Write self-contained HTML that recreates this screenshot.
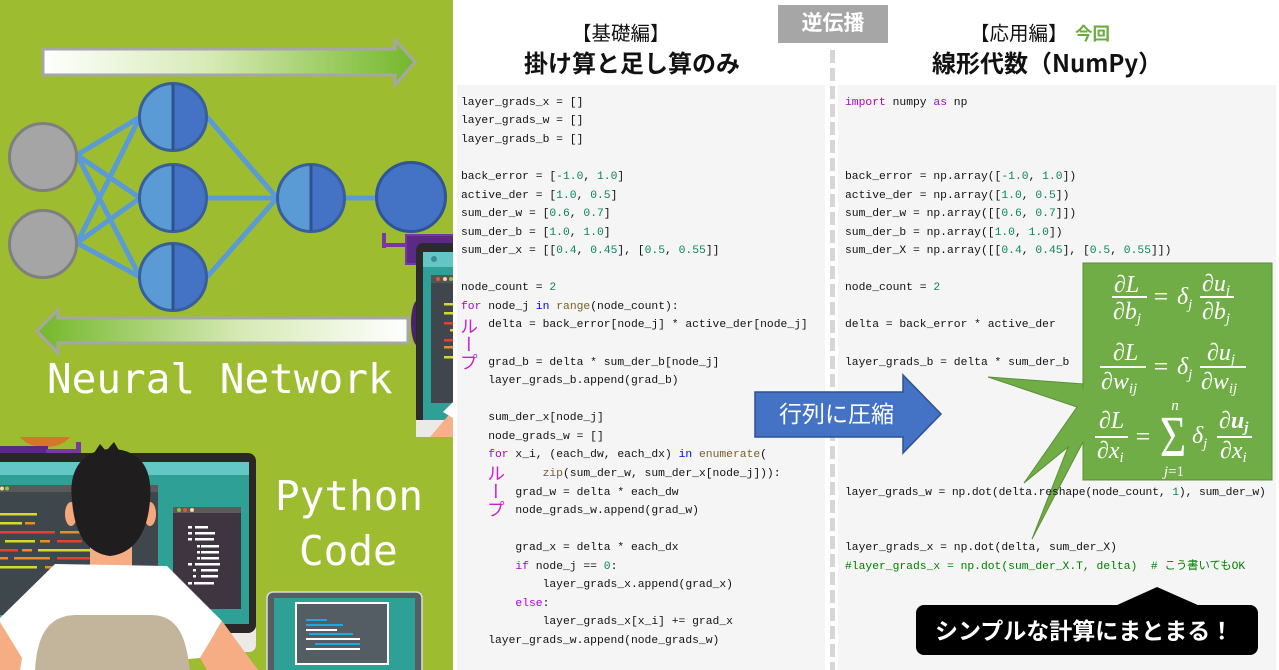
<!DOCTYPE html>
<html><head><meta charset="utf-8">
<style>
*{margin:0;padding:0;box-sizing:border-box}
body{width:1279px;height:670px;overflow:hidden;background:#fff;position:relative;font-family:"Liberation Sans","Noto Sans CJK JP",sans-serif}
.abs{position:absolute}
pre{position:absolute;font-family:"Liberation Mono","Noto Sans CJK JP",monospace;font-size:11.33px;line-height:18.57px;color:#111;white-space:pre;margin:0;z-index:3}
.k{color:#af00db}.b{color:#0000ff}.f{color:#795e26}.n{color:#098658}.c{color:#008000}
.loop{position:absolute;writing-mode:vertical-rl;font-family:"Noto Sans CJK JP",sans-serif;font-size:18px;line-height:20px;color:#cc1fcc;z-index:3}
.jp{font-family:"Noto Sans CJK JP",sans-serif}
</style></head><body>

<!-- LEFT GREEN PANEL -->
<svg class="abs" style="left:0;top:0" width="453" height="670" viewBox="0 0 453 670">
<defs>
<linearGradient id="gf" x1="0" x2="1" y1="0" y2="0"><stop offset="0" stop-color="#ffffff"/><stop offset="0.45" stop-color="#d6eab5"/><stop offset="1" stop-color="#74b72a"/></linearGradient>
<linearGradient id="gb" x1="0" x2="1" y1="0" y2="0"><stop offset="0" stop-color="#74b72a"/><stop offset="0.55" stop-color="#d6eab5"/><stop offset="1" stop-color="#ffffff"/></linearGradient>
</defs>
<rect width="453" height="670" fill="#9ebc30"/>
<polygon points="43,49 395,49 395,40 415,62 395,85 395,75 43,75" fill="url(#gf)" stroke="#a6a6a6" stroke-width="3"/>
<polygon points="408,318 58,318 58,310 37,331 58,353 58,343 408,343" fill="url(#gb)" stroke="#a6a6a6" stroke-width="3"/>

<g stroke="#5b9bd5" stroke-width="5">
<line x1="77" y1="155" x2="140" y2="117"/><line x1="77" y1="155" x2="140" y2="198"/><line x1="77" y1="155" x2="140" y2="277"/>
<line x1="77" y1="243" x2="140" y2="117"/><line x1="77" y1="243" x2="140" y2="198"/><line x1="77" y1="243" x2="140" y2="277"/>
<line x1="207" y1="117" x2="277" y2="198"/><line x1="207" y1="198" x2="277" y2="198"/><line x1="207" y1="277" x2="277" y2="198"/>
<line x1="344" y1="198" x2="378" y2="198"/>
</g>
<circle cx="43" cy="157" r="33.5" fill="#a5a5a5" stroke="#7f7f7f" stroke-width="3"/>
<circle cx="43" cy="244" r="33.5" fill="#a5a5a5" stroke="#7f7f7f" stroke-width="3"/>
<g>
<circle cx="173" cy="117" r="33.5" fill="#5b9bd5"/><path d="M173 83.5 A33.5 33.5 0 0 1 173 150.5Z" fill="#4472c4"/><circle cx="173" cy="117" r="33.5" fill="none" stroke="#365f9c" stroke-width="3"/><line x1="173" y1="84" x2="173" y2="150" stroke="#2f528f" stroke-width="3"/>
<circle cx="173" cy="198" r="33.5" fill="#5b9bd5"/><path d="M173 164.5 A33.5 33.5 0 0 1 173 231.5Z" fill="#4472c4"/><circle cx="173" cy="198" r="33.5" fill="none" stroke="#365f9c" stroke-width="3"/><line x1="173" y1="165" x2="173" y2="231" stroke="#2f528f" stroke-width="3"/>
<circle cx="173" cy="277" r="33.5" fill="#5b9bd5"/><path d="M173 243.5 A33.5 33.5 0 0 1 173 310.5Z" fill="#4472c4"/><circle cx="173" cy="277" r="33.5" fill="none" stroke="#365f9c" stroke-width="3"/><line x1="173" y1="244" x2="173" y2="310" stroke="#2f528f" stroke-width="3"/>
<circle cx="311" cy="198" r="33.5" fill="#5b9bd5"/><path d="M311 164.5 A33.5 33.5 0 0 1 311 231.5Z" fill="#4472c4"/><circle cx="311" cy="198" r="33.5" fill="none" stroke="#365f9c" stroke-width="3"/><line x1="311" y1="165" x2="311" y2="231" stroke="#2f528f" stroke-width="3"/>
</g>
<circle cx="411" cy="197" r="34.5" fill="#4472c4" stroke="#2f5597" stroke-width="3"/>

<!-- small monitor right -->
<ellipse cx="418" cy="323" rx="7" ry="23" fill="#4a2170"/>
<rect x="382" y="233" width="4" height="15" fill="#7a35a8"/>
<rect x="382" y="243" width="30" height="4" fill="#7a35a8"/>
<rect x="406" y="235" width="50" height="29" fill="#5b2a84" stroke="#7a35a8" stroke-width="2"/>
<rect x="416" y="243" width="45" height="182" rx="7" fill="#2d2a2d"/>
<rect x="416" y="420" width="45" height="17" fill="#ebeae6"/>
<rect x="423" y="252" width="35" height="15" fill="#64c6c4"/>
<circle cx="434" cy="259" r="3" fill="#3d8a93"/>
<rect x="423" y="267" width="35" height="153" fill="#2ea096"/>
<rect x="431" y="275" width="25" height="128" fill="#3f474c"/>
<rect x="431" y="275" width="25" height="8" fill="#555"/>
<circle cx="438" cy="279" r="2" fill="#e05a2b"/><circle cx="445" cy="279" r="2" fill="#f3d9a4"/><circle cx="451" cy="279" r="2" fill="#8dc63f"/>
<g>
<rect x="444" y="303" width="10" height="2.5" fill="#d6d92a"/>
<rect x="444" y="312" width="10" height="2.5" fill="#d6d92a"/>
<rect x="444" y="322" width="10" height="2.5" fill="#e8402f"/>
<rect x="450" y="329" width="4" height="2.5" fill="#d6d92a"/>
<rect x="444" y="339" width="10" height="2.5" fill="#e8402f"/>
<rect x="444" y="346" width="10" height="2.5" fill="#f08a24"/>
<rect x="444" y="356" width="10" height="2.5" fill="#d6d92a"/>
</g>
<polygon points="430,437 453,410 453,437" fill="#f7b08a"/>
<polygon points="443,412 453,402 453,418" fill="#fff"/>

<!-- texts -->
<g font-family="DejaVu Sans Mono, Liberation Mono, monospace" font-size="41" fill="#fff">
<text x="47" y="393">Neural Network</text>
<text x="275" y="510">Python</text>
<text x="299" y="565">Code</text>
</g>

<!-- big monitor bottom-left -->
<path d="M20 437 L70 437 Q62 447 45 447 Q28 447 20 437Z" fill="#d6762a"/>
<rect x="0" y="446" width="48" height="7" fill="#5a2a82"/>
<rect x="46" y="449" width="35" height="4" fill="#7a35a8"/>
<rect x="76" y="442" width="5" height="11" fill="#7a35a8"/>
<rect x="-10" y="622" width="266" height="30" rx="7" fill="#ebeae6"/>
<rect x="-10" y="453" width="266" height="180" rx="8" fill="#2b2728"/>
<rect x="0" y="462" width="249" height="13" fill="#63c7c5"/>
<rect x="0" y="475" width="249" height="149" fill="#2ea096"/>
<rect x="0" y="485" width="158" height="130" fill="#3d474c"/>
<rect x="0" y="485" width="158" height="7" fill="#5a5a5a"/>
<circle cx="2" cy="488.5" r="2" fill="#f3d9a4"/><circle cx="7" cy="488.5" r="2" fill="#8dc63f"/>
<g>
<rect x="0" y="513" width="37" height="2.5" fill="#d6d92a"/>
<rect x="0" y="522" width="22" height="2.5" fill="#d6d92a"/><rect x="25" y="522" width="10" height="2.5" fill="#f08a24"/>
<rect x="0" y="531" width="55" height="2.5" fill="#e8402f"/><rect x="60" y="531" width="20" height="2.5" fill="#f08a24"/>
<rect x="5" y="540" width="30" height="2.5" fill="#d6d92a"/><rect x="40" y="540" width="10" height="2.5" fill="#f08a24"/><rect x="57" y="540" width="25" height="2.5" fill="#e8402f"/>
<rect x="0" y="549" width="18" height="2.5" fill="#e8402f"/><rect x="22" y="549" width="10" height="2.5" fill="#f08a24"/><rect x="38" y="549" width="52" height="2.5" fill="#d6d92a"/>
<rect x="0" y="557" width="8" height="2.5" fill="#f08a24"/><rect x="14" y="557" width="36" height="2.5" fill="#f08a24"/><rect x="57" y="557" width="33" height="2.5" fill="#e8402f"/>
<rect x="0" y="566" width="37" height="2.5" fill="#d6d92a"/><rect x="45" y="566" width="15" height="2.5" fill="#f08a24"/>
</g>
<rect x="173" y="507" width="68" height="102" fill="#3e3541"/>
<rect x="173" y="507" width="68" height="6" fill="#5b5b5b"/>
<circle cx="179" cy="510" r="2" fill="#8dc63f"/><circle cx="185" cy="510" r="2" fill="#e4572e"/><circle cx="192" cy="510" r="2" fill="#f3d9a4"/>
<g fill="#fff">
<rect x="188" y="526" width="4" height="2.5"/><rect x="195" y="526" width="13" height="2.5"/>
<rect x="188" y="532" width="4" height="2.5"/><rect x="195" y="532" width="20" height="2.5"/>
<rect x="188" y="538" width="4" height="2.5"/><rect x="195" y="538" width="19" height="2.5"/>
<rect x="197" y="545" width="3" height="2.5"/><rect x="201" y="545" width="18" height="2.5"/>
<rect x="197" y="551" width="3" height="2.5"/><rect x="201" y="551" width="18" height="2.5"/>
<rect x="197" y="557" width="3" height="2.5"/><rect x="201" y="557" width="18" height="2.5"/>
<rect x="188" y="563" width="4" height="2.5"/><rect x="195" y="563" width="25" height="2.5"/>
<rect x="193" y="569" width="3" height="2.5"/><rect x="201" y="569" width="17" height="2.5"/>
<rect x="193" y="575" width="3" height="2.5"/><rect x="201" y="575" width="17" height="2.5"/>
<rect x="188" y="582" width="4" height="2.5"/><rect x="194" y="582" width="20" height="2.5"/>
</g>
<!-- person -->
<rect x="90" y="540" width="42" height="28" fill="#f6ad84"/>
<polygon points="55,564 167,566 222,621 200,658 60,670 20,670 0,625 0,618" fill="#ffffff"/>
<polygon points="0,622 22,658 20,670 0,670" fill="#f6ad84"/>
<polygon points="222,621 258,670 207,670 200,658" fill="#f6ad84"/>
<path d="M35 670 C37 640 45 616 75 615 L152 615 C180 616 186 640 190 670Z" fill="#c3b59c"/>
<ellipse cx="71" cy="514" rx="6" ry="12" fill="#f5a87c"/>
<ellipse cx="150" cy="514" rx="6" ry="12" fill="#f5a87c"/>
<path d="M72 500 C68 468 84 450 110 449 C140 449 153 468 150 500 C148 530 136 553 110 556 C85 553 74 530 72 500Z" fill="#1f1d1e"/>
<polygon points="92,456 100,444 106,451 114,442 120,452" fill="#1f1d1e"/>
<!-- laptop -->
<rect x="267" y="592" width="155" height="90" rx="6" fill="#575e63" stroke="#dcdcdc" stroke-width="1.5"/>
<rect x="274" y="598" width="141" height="80" fill="#2ea096"/>
<rect x="296" y="603" width="92" height="61" fill="#545d63" stroke="#ffffff" stroke-width="2"/>
<g>
<rect x="306" y="619" width="21" height="2" fill="#1fa8e0"/>
<rect x="306" y="624" width="37" height="2" fill="#1fa8e0"/>
<rect x="306" y="629" width="31" height="2" fill="#ffffff"/>
<rect x="309" y="633" width="44" height="2" fill="#1fa8e0"/>
<rect x="306" y="638" width="54" height="2" fill="#ffffff"/>
<rect x="315" y="643" width="45" height="2" fill="#1fa8e0"/>
<rect x="306" y="648" width="54" height="2" fill="#ffffff"/>
</g>
</svg>

<!-- headers -->
<div class="abs jp" style="left:778px;top:5px;width:110px;height:38px;background:#a6a6a6;color:#fff;font-weight:bold;font-size:21px;line-height:35px;text-align:center">逆伝播</div>
<div class="abs jp" style="left:572px;top:20px;font-size:19.5px;line-height:24px;color:#111;white-space:nowrap">【基礎編】</div>
<div class="abs jp" style="left:524px;top:47px;font-size:24px;line-height:30px;font-weight:bold;color:#111;white-space:nowrap">掛け算と足し算のみ</div>
<div class="abs jp" style="left:970px;top:20px;font-size:19.5px;line-height:24px;color:#111;white-space:nowrap">【応用編】</div>
<div class="abs jp" style="left:1075px;top:24px;font-size:17.5px;line-height:20px;font-weight:bold;color:#6aad3f;white-space:nowrap">今回</div>
<div class="abs jp" style="left:932px;top:47px;font-size:24px;line-height:30px;font-weight:bold;color:#111;white-space:nowrap">線形代数（NumPy）</div>

<!-- code panels -->
<div class="abs" style="left:457px;top:85px;width:368px;height:585px;background:#f5f5f5"></div>
<div class="abs" style="left:838px;top:85px;width:438px;height:585px;background:#f5f5f5"></div>
<div class="abs" style="left:830px;top:50px;width:5px;height:620px;background:repeating-linear-gradient(to bottom,#d6d6d6 0,#d6d6d6 13px,transparent 13px,transparent 18px)"></div>

<!-- overlay shapes -->
<svg class="abs" style="left:0;top:0;z-index:2" width="1279" height="670" viewBox="0 0 1279 670">
<polygon points="755,392 903,392 903,375 941,414 903,453 903,437 755,437" fill="#4472c4" stroke="#2f528f" stroke-width="1.5"/>
<text x="779" y="422" font-family="Noto Sans CJK JP, sans-serif" font-size="23" fill="#fff">行列に圧縮</text>

<polygon points="1084,384 988,377 1077,407 1024,483 1068,447 1032,539 1084,440" fill="#70ad47" stroke="#5a8f37" stroke-width="1"/>
<rect x="1083" y="263" width="189" height="217" fill="#70ad47" stroke="#5a8f37" stroke-width="1"/>
<polygon points="1084,385 1078,408 1069,447 1084,441" fill="#70ad47"/>

<g font-family="Liberation Serif, DejaVu Serif, serif" font-style="italic" fill="#fff" font-size="24">
<!-- eq1 -->
<text x="1114" y="292">∂L</text>
<line x1="1112" y1="297" x2="1147" y2="297" stroke="#fff" stroke-width="2"/>
<text x="1113" y="319">∂b<tspan font-size="15" dy="4">j</tspan></text>
<text x="1161" y="305" text-anchor="middle" font-style="normal" font-size="26">=</text>
<text x="1177" y="304">δ<tspan font-size="15" dy="5">j</tspan></text>
<text x="1202" y="291">∂u<tspan font-size="15" dy="4">j</tspan></text>
<line x1="1200" y1="297" x2="1234" y2="297" stroke="#fff" stroke-width="2"/>
<text x="1202" y="319">∂b<tspan font-size="15" dy="4">j</tspan></text>
<!-- eq2 -->
<text x="1113" y="360">∂L</text>
<line x1="1100" y1="367" x2="1146" y2="367" stroke="#fff" stroke-width="2"/>
<text x="1101" y="389">∂w<tspan font-size="15" dy="4">ij</tspan></text>
<text x="1161" y="375" text-anchor="middle" font-style="normal" font-size="26">=</text>
<text x="1177" y="374">δ<tspan font-size="15" dy="5">j</tspan></text>
<text x="1207" y="360">∂u<tspan font-size="15" dy="4">j</tspan></text>
<line x1="1200" y1="367" x2="1246" y2="367" stroke="#fff" stroke-width="2"/>
<text x="1201" y="389">∂w<tspan font-size="15" dy="4">ij</tspan></text>
<!-- eq3 -->
<text x="1099" y="428">∂L</text>
<line x1="1095" y1="437" x2="1128" y2="437" stroke="#fff" stroke-width="2"/>
<text x="1097" y="458">∂x<tspan font-size="15" dy="4">i</tspan></text>
<text x="1143" y="445" text-anchor="middle" font-style="normal" font-size="26">=</text>
<text transform="translate(1173,456) scale(0.78,1)" text-anchor="middle" font-style="normal" font-size="58">Σ</text>
<text x="1175" y="410" text-anchor="middle" font-size="15">n</text>
<text x="1174" y="476" text-anchor="middle" font-size="15">j<tspan font-style="normal">=1</tspan></text>
<text x="1192" y="443">δ<tspan font-size="15" dy="5">j</tspan></text>
<text x="1219" y="428" font-weight="bold">∂u<tspan font-size="15" dy="4">j</tspan></text>
<line x1="1217" y1="437" x2="1252" y2="437" stroke="#fff" stroke-width="2"/>
<text x="1220" y="458">∂x<tspan font-size="15" dy="4">i</tspan></text>
</g>

<polygon points="1115,606 1157,587 1200,606" fill="#000"/>
<rect x="916" y="605" width="342" height="50" rx="8" fill="#000"/>
<text x="935" y="639" font-family="Noto Sans CJK JP, sans-serif" font-size="23" font-weight="bold" fill="#fff">シンプルな計算にまとまる！</text>
</svg>

<pre style="left:461px;top:93.7px">layer_grads_x = []
layer_grads_w = []
layer_grads_b = []

back_error = [<span class="n">-1.0</span>, <span class="n">1.0</span>]
active_der = [<span class="n">1.0</span>, <span class="n">0.5</span>]
sum_der_w = [<span class="n">0.6</span>, <span class="n">0.7</span>]
sum_der_b = [<span class="n">1.0</span>, <span class="n">1.0</span>]
sum_der_x = [[<span class="n">0.4</span>, <span class="n">0.45</span>], [<span class="n">0.5</span>, <span class="n">0.55</span>]]

node_count = <span class="n">2</span>
<span class="k">for</span> node_j <span class="b">in</span> <span class="f">range</span>(node_count):
    delta = back_error[node_j] * active_der[node_j]

    grad_b = delta * sum_der_b[node_j]
    layer_grads_b.append(grad_b)

    sum_der_x[node_j]
    node_grads_w = []
    <span class="k">for</span> x_i, (each_dw, each_dx) <span class="b">in</span> <span class="f">enumerate</span>(
            <span class="f">zip</span>(sum_der_w, sum_der_x[node_j])):
        grad_w = delta * each_dw
        node_grads_w.append(grad_w)

        grad_x = delta * each_dx
        <span class="k">if</span> node_j == <span class="n">0</span>:
            layer_grads_x.append(grad_x)
        <span class="k">else</span>:
            layer_grads_x[x_i] += grad_x
    layer_grads_w.append(node_grads_w)</pre>

<div class="loop" style="left:459px;top:317px">ループ</div>
<div class="loop" style="left:486px;top:464px">ループ</div>

<pre style="left:845px;top:93.7px"><span class="k">import</span> numpy <span class="k">as</span> np



back_error = np.array([<span class="n">-1.0</span>, <span class="n">1.0</span>])
active_der = np.array([<span class="n">1.0</span>, <span class="n">0.5</span>])
sum_der_w = np.array([[<span class="n">0.6</span>, <span class="n">0.7</span>]])
sum_der_b = np.array([<span class="n">1.0</span>, <span class="n">1.0</span>])
sum_der_X = np.array([[<span class="n">0.4</span>, <span class="n">0.45</span>], [<span class="n">0.5</span>, <span class="n">0.55</span>]])

node_count = <span class="n">2</span>

delta = back_error * active_der

layer_grads_b = delta * sum_der_b






<span style="letter-spacing:-0.12px">layer_grads_w = np.dot(delta.reshape(node_count, <span class="n">1</span>), sum_der_w)</span>


layer_grads_x = np.dot(delta, sum_der_X)
<span class="c">#layer_grads_x = np.dot(sum_der_X.T, delta)  # こう書いてもOK</span></pre>

</body></html>
